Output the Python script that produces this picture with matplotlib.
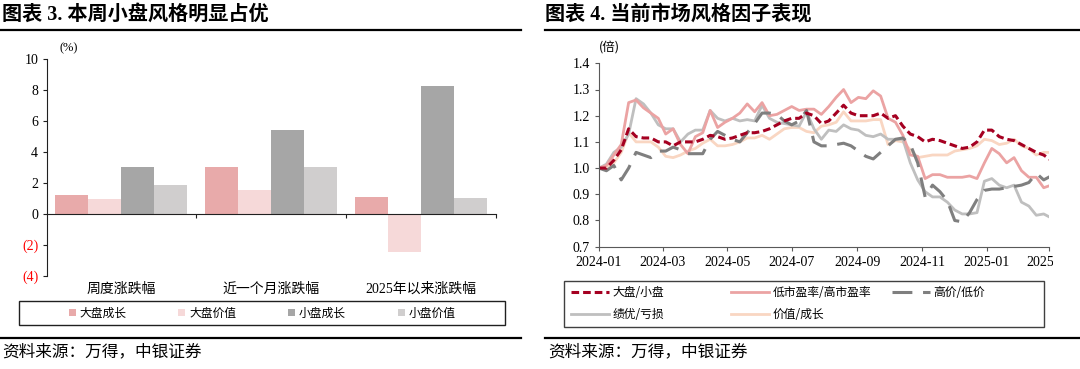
import numpy as np
import pandas as pd
import matplotlib
matplotlib.use('Agg')
import matplotlib.pyplot as plt
import matplotlib.dates as mdates
from matplotlib.lines import Line2D
from matplotlib.patches import Rectangle
from matplotlib.transforms import Bbox, blended_transform_factory

CJK = 'Noto Sans CJK SC'
SERIF = ['Liberation Serif', 'Noto Sans CJK SC']
plt.rcParams['font.family'] = SERIF
plt.rcParams['axes.unicode_minus'] = False

# --- 图表3 数据 ---
groups = ['周度涨跌幅', '近一个月涨跌幅', '2025年以来涨跌幅']
bar_names = ['大盘成长', '大盘价值', '小盘成长', '小盘价值']
large_growth = [1.25, 3.02, 1.08]
large_value = [0.97, 1.55, -2.42]
small_growth = [3.02, 5.45, 8.23]
small_value = [1.85, 3.02, 1.01]
bar_colors = ['#E8AAAA', '#F6D9D9', '#A6A6A6', '#D0CECE']

# --- 图表4 数据 (周频) ---
dates = pd.date_range('2024-01-01', periods=62, freq='7D')
big_small = [1.00, 1.00, 1.03, 1.07, 1.15, 1.12, 1.115, 1.115, 1.10, 1.10,
             1.085, 1.10, 1.10, 1.10, 1.11, 1.125, 1.12, 1.11, 1.115, 1.125,
             1.135, 1.135, 1.14, 1.15, 1.165, 1.18, 1.19, 1.19, 1.21, 1.20,
             1.17, 1.18, 1.21, 1.24, 1.21, 1.20, 1.20, 1.20, 1.21, 1.19,
             1.20, 1.16, 1.13, 1.12, 1.10, 1.11, 1.105, 1.095, 1.085, 1.075,
             1.08, 1.10, 1.145, 1.145, 1.12, 1.11, 1.105, 1.09, 1.075, 1.06,
             1.05, 1.03]
low_high_pe = [1.00, 1.01, 1.05, 1.09, 1.25, 1.26, 1.23, 1.21, 1.19, 1.13,
               1.15, 1.09, 1.055, 1.12, 1.135, 1.22, 1.155, 1.175, 1.19, 1.21,
               1.245, 1.215, 1.25, 1.20, 1.205, 1.22, 1.235, 1.22, 1.225, 1.225,
               1.205, 1.235, 1.27, 1.30, 1.25, 1.27, 1.265, 1.295, 1.275, 1.19,
               1.175, 1.125, 1.05, 1.045, 0.96, 0.975, 0.975, 0.965, 0.965, 0.965,
               0.97, 0.96, 1.02, 1.075, 1.055, 1.02, 1.04, 0.99, 0.965, 0.965,
               0.925, 0.935]
high_low_price = [1.00, 0.99, 1.01, 0.955, 1.00, 1.06, 1.05, 1.04, 1.065, 1.065,
                  1.08, 1.07, 1.055, 1.055, 1.055, 1.11, 1.14, 1.125, 1.11, 1.10,
                  1.135, 1.17, 1.21, 1.21, 1.205, 1.18, 1.165, 1.18, 1.22, 1.10,
                  1.085, 1.085, 1.09, 1.095, 1.085, 1.065, 1.045, 1.035, 1.06, 1.085,
                  1.11, 1.115, 1.09, 1.02, 0.89, 0.935, 0.91, 0.875, 0.80, 0.795,
                  0.83, 0.88, 0.915, 0.92, 0.92, 0.925, 0.93, 0.935, 0.945, 0.98,
                  0.955, 0.97]
profit_loss = [1.00, 1.015, 1.06, 1.08, 1.13, 1.265, 1.245, 1.21, 1.165, 1.15,
               1.15, 1.10, 1.13, 1.145, 1.145, 1.22, 1.19, 1.18, 1.19, 1.18,
               1.185, 1.18, 1.24, 1.19, 1.175, 1.17, 1.165, 1.16, 1.215, 1.15,
               1.11, 1.145, 1.14, 1.165, 1.15, 1.145, 1.125, 1.12, 1.13, 1.11,
               1.11, 1.11, 1.02, 0.955, 0.91, 0.89, 0.89, 0.87, 0.84, 0.825,
               0.825, 0.83, 0.95, 0.96, 0.935, 0.925, 0.935, 0.87, 0.855, 0.82,
               0.825, 0.81]
value_growth = [1.00, 1.00, 1.02, 1.06, 1.135, 1.10, 1.10, 1.10, 1.08, 1.045,
                1.04, 1.05, 1.065, 1.075, 1.095, 1.11, 1.085, 1.085, 1.09, 1.10,
                1.115, 1.115, 1.125, 1.11, 1.13, 1.15, 1.155, 1.155, 1.14, 1.135,
                1.16, 1.165, 1.175, 1.215, 1.18, 1.18, 1.18, 1.185, 1.185, 1.09,
                1.105, 1.10, 1.07, 1.04, 1.045, 1.05, 1.05, 1.05, 1.065, 1.07,
                1.075, 1.085, 1.11, 1.105, 1.09, 1.095, 1.11, 1.085, 1.075, 1.05,
                1.06, 1.06]

W, H = 1080, 369
fig = plt.figure(figsize=(W / 100, H / 100), dpi=100)


def fx(px):
    return px / W


def fy(py):
    return 1 - py / H


# ================= 左图：柱状图 =================
ax1 = fig.add_axes([fx(46.5), fy(276), (496 - 46.5) / W, (276 - 59) / H])
x = np.arange(len(groups))
width = 0.22
bars = []
for k, (vals, col) in enumerate(zip([large_growth, large_value, small_growth, small_value], bar_colors)):
    b = ax1.bar(x + (k - 1.5) * width, vals, width=width, color=col, edgecolor='none', zorder=2)
    bars.append(b)

ax1.set_xlim(-0.5, 2.5)
ax1.set_ylim(-4, 10)
yt = np.arange(-4, 11, 2)
ax1.set_yticks(yt)
ax1.set_yticklabels([f'({abs(v)})' if v < 0 else str(v) for v in yt], fontsize=10)
for lab in ax1.get_yticklabels():
    if lab.get_text().startswith('('):
        lab.set_color('#FF0000')
ax1.spines['top'].set_visible(False)
ax1.spines['right'].set_visible(False)
ax1.spines['bottom'].set_position(('data', 0))
ax1.spines['left'].set_color('#202020')
ax1.spines['bottom'].set_color('#202020')
ax1.set_xticks([0.5, 1.5, 2.5])
ax1.set_xticklabels([])
ax1.tick_params(axis='x', length=3, color='#202020')
ax1.tick_params(axis='y', length=3, color='#202020', pad=3)

trans = blended_transform_factory(ax1.transData, ax1.transAxes)
for i, g in enumerate(groups):
    ax1.text(i, -0.06, g, transform=trans, ha='center', va='center', fontsize=10)
ax1.text(0.05, 1.05, '(%)', transform=ax1.transAxes, ha='center', va='center', fontsize=9)

fig.legend(bars, bar_names, ncol=4, loc='center', bbox_to_anchor=(fx(262), fy(313)),
           bbox_transform=fig.transFigure, frameon=False, prop={'family': CJK, 'size': 8.5},
           handlelength=0.6, handleheight=0.6, handletextpad=0.3, columnspacing=4.4,
           borderpad=0, borderaxespad=0)
fig.add_artist(Rectangle((fx(19), fy(325)), (505 - 19) / W, (325 - 301) / H,
                         transform=fig.transFigure, fill=False, edgecolor='#202020', lw=1))

# ================= 右图：折线图 =================
ax2 = fig.add_axes([fx(599), fy(246.7), (1049 - 599) / W, (246.7 - 63.3) / H])
l5, = ax2.plot(dates, value_growth, color='#F9D6C2', lw=2, label='价值/成长')
l4, = ax2.plot(dates, profit_loss, color='#BFBFBF', lw=2, label='绩优/亏损')
l2, = ax2.plot(dates, low_high_pe, color='#EBA3A3', lw=2, label='低市盈率/高市盈率')
l3, = ax2.plot(dates, high_low_price, color='#7F7F7F', lw=2.2, dashes=(6.5, 3.5), label='高价/低价')
l1, = ax2.plot(dates, big_small, color='#A50021', lw=2.2, dashes=(2.5, 1.3), label='大盘/小盘')

ax2.set_xlim(pd.Timestamp('2024-01-01'), pd.Timestamp('2025-03-01'))
ax2.set_ylim(0.7, 1.4)
ax2.set_yticks(np.arange(0.7, 1.41, 0.1))
ax2.yaxis.set_major_formatter(plt.FormatStrFormatter('%.1f'))
ax2.set_xticks(pd.date_range('2024-01-01', '2025-03-01', freq='2MS'))
ax2.xaxis.set_major_formatter(mdates.DateFormatter('%Y-%m'))
ax2.tick_params(labelsize=10, length=3, color='#595959')
ax2.spines['top'].set_visible(False)
ax2.spines['right'].set_visible(False)
ax2.spines['left'].set_color('#595959')
ax2.spines['bottom'].set_color('#595959')
ax2.text(0.022, 1.089, '(倍)', transform=ax2.transAxes, ha='center', va='center',
         fontsize=9, family=CJK)

leg_cols = [([l1, l4], 571), ([l2, l5], 731), ([l3], 892)]
for hs, xpos in leg_cols:
    fig.legend(hs, [h.get_label() for h in hs], loc='upper left',
               bbox_to_anchor=(fx(xpos), fy(286)), bbox_transform=fig.transFigure,
               frameon=False, prop={'family': CJK, 'size': 8.5}, handlelength=3.2,
               handletextpad=0.3, labelspacing=0.75, borderpad=0, borderaxespad=0)
fig.add_artist(Rectangle((fx(564), fy(327)), (1044 - 564) / W, (327 - 281) / H,
                         transform=fig.transFigure, fill=False, edgecolor='#404040', lw=1))

# ================= 标题、分隔线、来源 =================
fig.text(fx(2), fy(15), '图表 3. 本周小盘风格明显占优', fontsize=14.5, fontweight='bold',
         ha='left', va='center')
fig.text(fx(545), fy(15), '图表 4. 当前市场风格因子表现', fontsize=14.5, fontweight='bold',
         ha='left', va='center')
for x0, x1 in [(0, 521), (545, 1080)]:
    fig.add_artist(Line2D([fx(x0), fx(x1)], [fy(29.5), fy(29.5)], color='black', lw=1.6,
                          transform=fig.transFigure))
    fig.add_artist(Line2D([fx(x0), fx(x1)], [fy(337.5), fy(337.5)], color='black', lw=1.6,
                          transform=fig.transFigure))
fig.text(fx(2), fy(352), '资料来源：万得，中银证券', fontsize=12, style='italic',
         family=CJK, ha='left', va='center')
fig.text(fx(548), fy(352), '资料来源：万得，中银证券', fontsize=12, style='italic',
         family=CJK, ha='left', va='center')

# 最后一个刻度标签被原图裁切
fig.canvas.draw()
for lab in ax2.get_xticklabels():
    if lab.get_text() == '2025-03':
        lab.set_clip_box(Bbox.from_extents(0, 0, 1053, H))
        lab.set_clip_on(True)

fig.savefig('out.png', dpi=100)
